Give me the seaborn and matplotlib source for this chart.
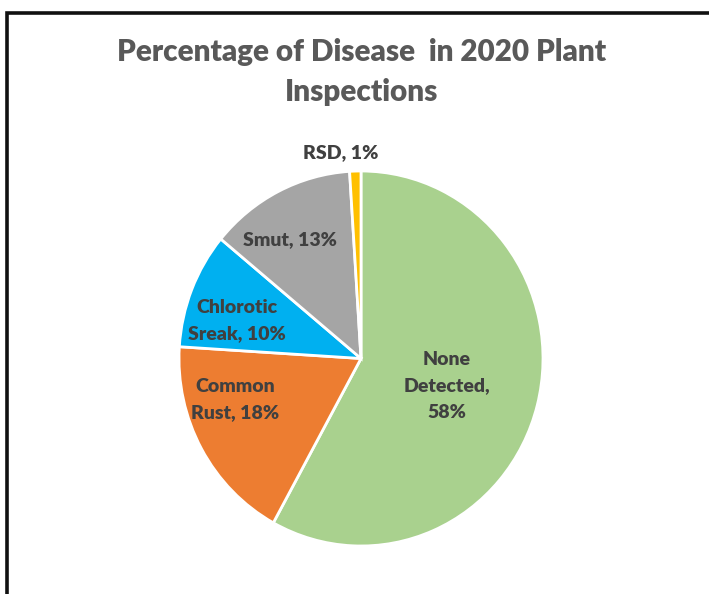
import matplotlib
matplotlib.use("Agg")
import matplotlib.pyplot as plt
from matplotlib.patches import Rectangle
import seaborn as sns

# Data
diseases = ["None Detected", "Common Rust", "Chlorotic Sreak", "Smut", "RSD"]
percents = [58, 18, 10, 13, 1]
colors = ["#A9D18E", "#ED7D31", "#00B0F0", "#A5A5A5", "#FFC000"]

# data labels as wrapped in the chart
labels = ["None\nDetected,\n58%", "Common\nRust, 18%", "Chlorotic\nSreak, 10%",
          "Smut, 13%", "RSD, 1%"]
# label centre offsets in units of the pie radius
label_offsets = [(0.473, -0.147), (-0.692, -0.221), (-0.681, 0.205),
                 (-0.390, 0.632), (-0.110, 1.096)]

sns.set_theme(style="white")
plt.rcParams['font.family'] = ['Lato', 'DejaVu Sans']

W, H = 709, 594
cx, cy = 361, 358.5
rx, ry = 182, 187.5   # the reference pie is slightly taller than wide

fig = plt.figure(figsize=(W / 100, H / 100), dpi=100)
ax = fig.add_axes([0, 0, 1, 1])

wedges, _ = ax.pie(percents, colors=colors, startangle=90, counterclock=False,
                   radius=1.0, wedgeprops=dict(edgecolor="white", linewidth=2))

for text, (dx, dy) in zip(labels, label_offsets):
    ax.text(dx, dy, text, ha="center", va="center", fontsize=14,
            fontweight="heavy", color="#404040", linespacing=1.65)

ax.set_xlim((0 - cx) / rx, (W - cx) / rx)
ax.set_ylim((cy - H) / ry, cy / ry)
ax.set_aspect("auto")
ax.axis("off")

fig.text(362 / W, 1 - 72 / H, "Percentage of Disease  in 2020 Plant\nInspections",
         ha="center", va="center", fontsize=21.3, fontweight="heavy",
         color="#595959", linespacing=1.56)

# chart area border (clipped by the image edges on right and bottom)
fig.patches.append(Rectangle((6.5 / W, -0.1), 1.2, 1 - 12.5 / H + 0.1,
                             transform=fig.transFigure, fill=False,
                             edgecolor="#111111", linewidth=2.6))

fig.savefig("out.png", dpi=100)
